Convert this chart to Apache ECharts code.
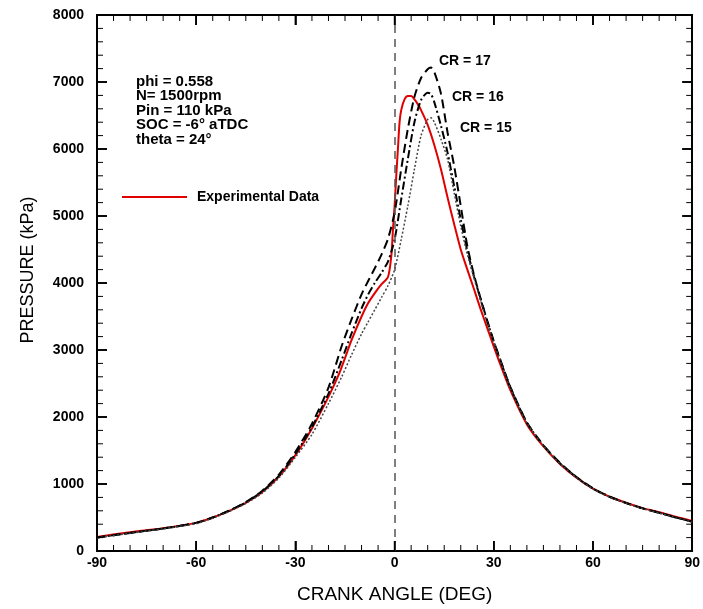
<!DOCTYPE html>
<html>
<head>
<meta charset="utf-8">
<script src="https://cdn.jsdelivr.net/npm/echarts@6/dist/echarts.min.js"></script>
<style>html,body{margin:0;padding:0;background:#fff;}#c{width:703px;height:609px;}</style>
</head>
<body>
<div id="c"></div>
<script>
// ---- data ----
const redAngle = [-90,-80,-70,-60,-55,-50,-45,-40,-35,-30,-25,-20,-17,-15,-13,-10,-8,-6,-4,-2,-1,-0.5,0,0.5,1,1.5,2,3,4,5,6,7,8,10,12,14,16,18,20,22,24,26,28,30,32,35,40,45,50,55,60,65,70,75,80,85,90];
const redP = [210,280,340,420,500,600,720,880,1110,1430,1830,2300,2620,2880,3150,3500,3700,3850,3980,4090,4400,4800,5150,5600,6000,6400,6580,6740,6790,6790,6740,6670,6580,6360,6060,5700,5280,4880,4500,4200,3910,3610,3330,3050,2780,2400,1890,1560,1300,1095,930,810,720,640,580,510,450];

const simAngle = [-90,-80,-70,-60,-55,-50,-45,-40,-35,-30,-25,-20,-16,-13,-10,-8,-6,-4,-2,0,2,4,6,8,10,11,12,14,16,18,20,22,24,26,28,30,32,35,40,45,50,55,60,65,70,75,80,85,90];
const cr17P = [200,270,335,420,500,605,730,900,1140,1480,1900,2440,3060,3460,3830,4030,4220,4420,4660,5050,5700,6300,6780,7060,7190,7215,7150,6830,6250,5750,5150,4550,4120,3770,3440,3130,2850,2450,1920,1580,1315,1105,935,812,718,638,572,502,438];
const cr16P = [200,270,335,420,500,600,725,890,1120,1450,1850,2350,2850,3250,3620,3830,4000,4150,4320,4650,5250,5850,6400,6730,6840,6820,6700,6350,5950,5450,4950,4480,4100,3760,3430,3120,2840,2440,1915,1575,1310,1100,930,810,715,636,570,500,436];
const cr15P = [195,265,330,410,490,590,710,865,1090,1400,1740,2200,2600,2930,3240,3420,3600,3780,3960,4200,4650,5150,5700,6200,6440,6465,6400,6150,5850,5350,4850,4430,4080,3740,3410,3110,2830,2430,1910,1570,1305,1095,925,806,713,633,568,498,434];

const xTicks = [-90,-60,-30,0,30,60,90];
const yTicks = [0,1000,2000,3000,4000,5000,6000,7000,8000];
const crLabels = ['CR = 17','CR = 16','CR = 15'];
const notes = ['phi = 0.558','N= 1500rpm','Pin = 110 kPa','SOC = -6° aTDC','theta = 24°'];

const X_MIN = -90, X_MAX = 90, Y_MIN = 0, Y_MAX = 8000;
const X_MINOR = 5, Y_MINOR = 200;

const pairs = (xs, ys) => xs.map((x, i) => [x, ys[i]]);

const chart = echarts.init(document.getElementById('c'));
const FONT = 'Liberation Sans, Arial, sans-serif';

function axis(kind, pos, interval, label, extra) {
  const a = {
    type: 'value', position: pos, interval: interval,
    min: kind === 'x' ? X_MIN : Y_MIN, max: kind === 'x' ? X_MAX : Y_MAX,
    axisLine: {show: true, onZero: false, lineStyle: {color: '#000', width: 2}},
    axisTick: {show: true, inside: true, length: 10, lineStyle: {color: '#000', width: 1.6}},
    splitLine: {show: false},
    axisLabel: label || {show: false}
  };
  return Object.assign(a, extra || {});
}

const xLabel = {margin: 5, color: '#000', fontWeight: 'bold', fontSize: 14, fontFamily: FONT,
  formatter: v => xTicks.includes(v) ? String(v) : ''};
const yLabel = {margin: 13, color: '#000', fontWeight: 'bold', fontSize: 14, fontFamily: FONT,
  formatter: v => yTicks.includes(v) ? String(v) : ''};

const textGraphics = [
  {type: 'text', left: 136, top: 74, style: {text: notes.join('\n'), lineHeight: 14.5,
    font: 'bold 15px ' + FONT, fill: '#000'}},
  {type: 'text', left: 439, top: 54, style: {text: crLabels[0], font: 'bold 14px ' + FONT, fill: '#000'}},
  {type: 'text', left: 452, top: 90, style: {text: crLabels[1], font: 'bold 14px ' + FONT, fill: '#000'}},
  {type: 'text', left: 460, top: 121, style: {text: crLabels[2], font: 'bold 14px ' + FONT, fill: '#000'}}
];

chart.setOption({
  animation: false,
  backgroundColor: '#fff',
  grid: {left: 97, right: 10, top: 15, bottom: 56},
  xAxis: [
    axis('x', 'bottom', 30, xLabel, {name: 'CRANK ANGLE (DEG)', nameLocation: 'middle', nameGap: 34,
      nameTextStyle: {fontSize: 19, color: '#000', fontFamily: FONT}}),
    axis('x', 'top', 30)
  ],
  yAxis: [
    axis('y', 'left', 1000, yLabel, {name: 'PRESSURE (kPa)', nameLocation: 'middle', nameGap: 60,
      nameTextStyle: {fontSize: 18, color: '#000', fontFamily: FONT, padding: [0, 0, 0, 26]}}),
    axis('y', 'right', 1000)
  ],
  legend: {
    data: ['Experimental Data'], left: 122, top: 190, padding: 0, icon: 'rect', itemWidth: 65, itemHeight: 2,
    textStyle: {fontSize: 14, fontWeight: 'bold', color: '#000', fontFamily: FONT, padding: [0, 0, 0, 5]}
  },
  series: [
    {
      name: 'Experimental Data', type: 'line', data: pairs(redAngle, redP), showSymbol: false, smooth: 0.25,
      lineStyle: {color: '#e00000', width: 2}, itemStyle: {color: '#e00000'},
      markLine: {silent: true, symbol: 'none', label: {show: false},
        lineStyle: {color: '#555', type: [8, 6], width: 1.5}, data: [{xAxis: 0}]}
    },
    {
      name: 'CR = 17', type: 'line', data: pairs(simAngle, cr17P), showSymbol: false, smooth: 0.25,
      lineStyle: {color: '#000', width: 2, type: [9, 5]}
    },
    {
      name: 'CR = 16', type: 'line', data: pairs(simAngle, cr16P), showSymbol: false, smooth: 0.25,
      lineStyle: {color: '#000', width: 2, type: [8, 3, 2, 3]}
    },
    {
      name: 'CR = 15', type: 'line', data: pairs(simAngle, cr15P), showSymbol: false, smooth: 0.25,
      lineStyle: {color: '#444', width: 1.5, type: [2, 2]}
    }
  ],
  graphic: {elements: textGraphics}
});

// inward tick marks on all four sides, placed through the chart's own scales
const finder = {xAxisIndex: 0, yAxisIndex: 0};
const tickRects = [];
function addRect(x, y, w, h) {
  tickRects.push({type: 'rect', silent: true, z: 100,
    shape: {x: x, y: y, width: w, height: h}, style: {fill: '#000'}});
}
for (let v = X_MIN; v <= X_MAX; v += X_MINOR) {
  const major = xTicks.includes(v);
  const len = major ? 10 : 6, w = major ? 1.6 : 1;
  const pb = chart.convertToPixel(finder, [v, Y_MIN]);
  const pt = chart.convertToPixel(finder, [v, Y_MAX]);
  addRect(pb[0] - w / 2, pb[1] - len, w, len);
  addRect(pt[0] - w / 2, pt[1], w, len);
}
for (let v = Y_MIN; v <= Y_MAX; v += Y_MINOR) {
  const major = yTicks.includes(v);
  const len = major ? 10 : 6, w = major ? 1.6 : 1;
  const pl = chart.convertToPixel(finder, [X_MIN, v]);
  const pr = chart.convertToPixel(finder, [X_MAX, v]);
  addRect(pl[0], pl[1] - w / 2, len, w);
  addRect(pr[0] - len, pr[1] - w / 2, len, w);
}
chart.setOption({graphic: {elements: textGraphics.concat(tickRects)}});
</script>
</body>
</html>
